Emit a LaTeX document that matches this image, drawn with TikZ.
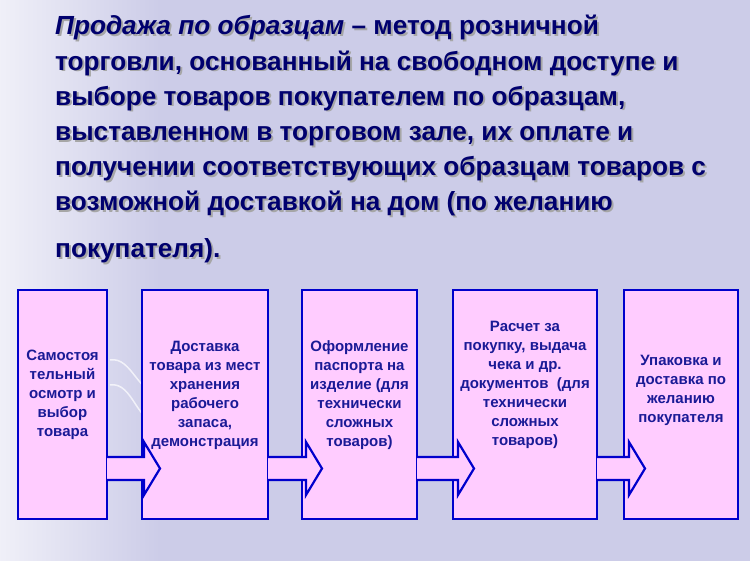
\documentclass[tikz,border=0pt]{standalone}
\usepackage{fontspec}
\setmainfont{Liberation Sans}
\usetikzlibrary{shapes.arrows}
\definecolor{bgviolet}{RGB}{204,204,232}
\definecolor{boxpink}{RGB}{255,204,255}
\definecolor{boxblue}{RGB}{0,0,204}
\definecolor{textblue}{RGB}{26,26,150}
\definecolor{titlenavy}{RGB}{0,0,110}
\tikzset{
  stepbox/.style={draw=boxblue,line width=2.2pt,fill=boxpink},
  steptext/.style={font=\bfseries\fontsize{15}{19}\selectfont,text=textblue,align=center},
  titleline/.style={anchor=base west,font=\bfseries\fontsize{26.2}{30}\selectfont,text=titlenavy,inner sep=0pt},
  flowarrow/.style={draw=boxblue,line width=2.2pt,fill=boxpink,line join=miter}
}
\begin{document}
\begin{tikzpicture}[x=1pt,y=-1pt]
\useasboundingbox (0,0) rectangle (750,561);
% background
\fill[bgviolet] (0,0) rectangle (750,561);
\shade[left color=white!70!bgviolet,right color=bgviolet] (0,0) rectangle (160,561);
\draw[white,line width=1.5pt,opacity=0.7] (110,360) to[out=10,in=200] (160,390);
\draw[white,line width=1.5pt,opacity=0.7] (110,385) to[out=10,in=200] (160,420);

% title
\foreach \txt [count=\i] in {%
  {\itshape Продажа по образцам {\normalfont\bfseries – метод розничной}},
  {торговли, основанный на свободном доступе и},
  {выборе товаров покупателем по образцам,},
  {выставленном в торговом зале, их оплате и},
  {получении соответствующих образцам товаров с},
  {возможной доставкой на дом (по желанию}}{
  \node[titleline,text=gray!70] at (57,{36.5+35.2*(\i-1)}) {\txt};
  \node[titleline] (title\i) at (55,{35+35.2*(\i-1)}) {\txt};
}
\node[titleline,text=gray!70] at (57,259.5) {покупателя).};
\node[titleline] (title7) at (55,258) {покупателя).};

% boxes
\draw[stepbox] (18,290) rectangle (107,519);
\draw[stepbox] (142,290) rectangle (268,519);
\draw[stepbox] (302,290) rectangle (417,519);
\draw[stepbox] (453,290) rectangle (597,519);
\draw[stepbox] (624,290) rectangle (738,519);

% arrows
\foreach \xa/\xb in {107/160,268/322,417/474,597/645}{
  \draw[flowarrow] (\xa,457) -- ({\xb-16},457) -- ({\xb-16},442) -- (\xb,468.5)
    -- ({\xb-16},495) -- ({\xb-16},480) -- (\xa,480);
}

% texts
\node[steptext] (self) at (62.5,395) {Самостоя\\тельный\\осмотр и\\выбор\\товара};
\node[steptext] (deliv) at (205,395) {Доставка\\товара из мест\\хранения\\рабочего\\запаса,\\демонстрация};
\node[steptext] (passp) at (359.5,395) {Оформление\\паспорта на\\изделие (для\\технически\\сложных\\товаров)};
\node[steptext] (pay) at (525,385) {Расчет за\\покупку, выдача\\чека и др.\\документов~ (для\\технически\\сложных\\товаров)};
\node[steptext] (pack) at (681,390) {Упаковка и\\доставка по\\желанию\\покупателя};
\end{tikzpicture}
\end{document}
